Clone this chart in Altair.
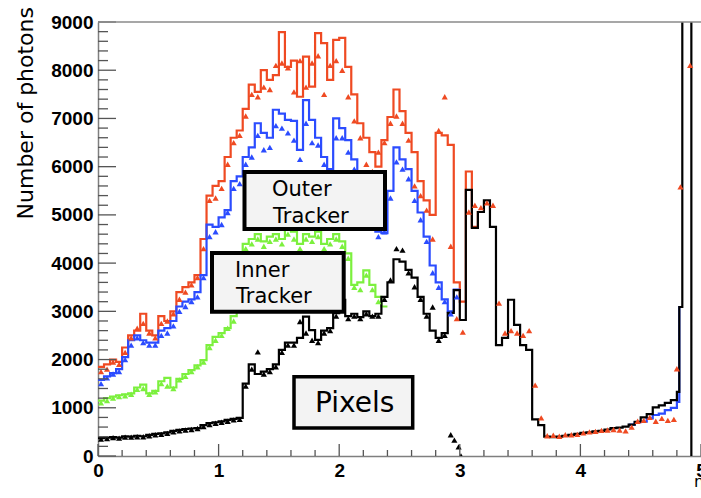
import altair as alt
import pandas as pd

# ---------------- data ----------------
BIN = 0.05  # histogram bin width in eta

# step-histogram contents, bins start at eta = 0
RED = [1850, 1900, 2000, 1950, 2250, 2500, 2600, 2950, 2600, 2500,
       2900, 2800, 3000, 3400, 3500, 3600, 3750, 4500, 5400, 5600,
       5700, 6200, 6600, 6750, 7200, 7700, 7550, 8000, 7800, 7900,
       8790, 8070, 8200, 7450, 8280, 7660, 8770, 8560, 7800, 8630,
       8670, 8070, 7500, 6900, 6600, 6300, 6000, 6550, 7030, 7600,
       7150, 6700, 6300, 5700, 5300, 5000, 6700, 6650, 6450, 3600,
       3200, 5900, 4750, 5060]
BLUE = [1580, 1650, 1720, 1800, 2050, 2400, 2500, 2400, 2350, 2350,
        2600, 2650, 2800, 3100, 3200, 3250, 3400, 3750, 4800, 4750,
        4950, 5100, 5700, 5800, 6200, 6400, 6900, 6700, 6600, 7180,
        7100, 6970, 6950, 6350, 7380, 6970, 6600, 6200, 5950, 7000,
        6800, 6550, 6150, 5900, 5850, 5250, 4650, 4620, 5500, 6400,
        6150, 5950, 5500, 5050, 4550, 3950, 3600, 3250, 3000, 3450]
GREEN = [1150, 1200, 1230, 1260, 1280, 1300, 1420, 1480, 1300, 1350,
         1550, 1620, 1420, 1600, 1700, 1780, 1880, 1990, 2300, 2470,
         2550, 2650, 2900, 3500, 4400, 4500, 4600, 4450, 4550, 4600,
         4500, 4700, 4650, 4400, 4600, 4550, 4650, 4400, 4500, 4600,
         4450, 4200, 3550, 3600, 3850, 3550, 3300, 3100]
BLACK = [370, 380, 390, 380, 410, 400, 420, 410, 440, 460,
         470, 490, 520, 540, 560, 570, 580, 640, 680, 700,
         720, 750, 770, 790, 1500, 1900, 1700, 1750, 1800, 1900,
         2200, 2350, 2350, 2450, 2890, 2610, 2410, 2600, 2650, 2960,
         3240, 2900, 2950, 2880, 3000, 2900, 2950, 3300, 3600, 4080,
         4030, 3860, 3700, 3300, 2950, 2600, 2450, 2550, 2970, 3440,
         2820, 5520, 4730, 5060, 5300, 4750, 2300, 2450, 3240, 2720,
         2300, 2200, 760, 640, 400, 390, 400, 420, 440, 460,
         480, 490, 510, 520, 550, 580, 590, 610, 650, 710,
         800, 870, 1010, 1050, 1100, 1160]
BLACK_TAIL_EDGES = [4.80, 4.82, 4.845, 4.92]
BLACK_TAIL_VALS = [1330, 3090, 12000, 0]
BLUE_TAIL_EDGES = [4.40, 4.45, 4.50, 4.55, 4.60, 4.65, 4.70, 4.75, 4.80, 4.82, 4.845]
BLUE_TAIL_VALS = [650, 700, 710, 780, 850, 880, 950, 1000, 1120, 3090]

# triangle markers, one per bin centre starting at eta = 0.025
RED_MK = [1750, 1800, 1950, 1900, 2150, 2450, 2650, 2750, 2550, 2450,
          2750, 2800, 2950, 3250, 3400, 3550, 3700, 4300, 5300, 5350,
          5550, 6050, 6500, 6650, 7050, 7500, 7450, 7650, 7600, 8100,
          8150, 8050, 7550, 8200, 7650, 8150, 8300, 7500, 8100, 8200,
          8000, 7450, 6950, 6600, 6050, 5900, 6300, 6500, 6900, 7050,
          6900, 6550, 5600, 5400, 5100, 4500, 6750, 7450, 4350, 2850,
          2570, 5060, 5200, 5150, 5250, 5200, 3170, 2550, 2600, 2550,
          2500, 2600, 1470, 790, 420, 430, 410, 440, 440, 450,
          480, 500, 510, 530, 540, 550, 540, 520, 600, 720,
          740, 800, 720, 780, 740, 760]
RED_MK_EXTRA_ETA = [4.80, 4.83, 4.91]
RED_MK_EXTRA = [1810, 5580, 8100]
BLUE_MK = [1500, 1620, 1700, 1750, 2000, 2300, 2450, 2350, 2300, 2300,
           2500, 2550, 2700, 3000, 3100, 3200, 3300, 3700, 4550, 4650,
           4800, 5050, 5550, 5650, 6050, 6200, 6650, 6350, 6400, 6850,
           6800, 6700, 6550, 6150, 6900, 6500, 6450, 6050, 5750, 6600,
           6600, 6300, 5950, 5700, 5600, 5100, 4550, 4650, 5350, 6100,
           5950, 5750, 5300, 4900, 4450, 3800, 3500, 3200, 2950, 3300]
GREEN_MK = [1100, 1150, 1200, 1230, 1250, 1280, 1380, 1400, 1280, 1330,
            1500, 1450, 1400, 1580, 1650, 1750, 1850, 1950, 2250, 2400,
            2500, 2650, 2800, 3400, 4300, 4400, 4500, 4350, 4450, 4500,
            4400, 4600, 4500, 4300, 4500, 4450, 4550, 4300, 4400, 4500,
            4350, 4100, 3500, 3450, 3750, 3450, 3200]
BLACK_MK = [350, 360, 380, 370, 390, 390, 400, 400, 420, 440,
            450, 470, 500, 520, 540, 550, 570, 610, 650, 680,
            700, 720, 750, 760, 1450, 1800, 2160, 1700, 1750, 1850,
            2150, 2300, 2300, 2790, 2550, 2400, 2350, 2550, 2600, 2900,
            3150, 2850, 2900, 2850, 2950, 2900, 2900, 3250, 3650, 4300,
            4270, 3800, 3510, 3250, 2900, 3090, 2400, 2500, 440]
BLACK_MK_EXTRA_ETA = [2.955, 2.99, 3.01]
BLACK_MK_EXTRA = [330, 190, 0]

Y_MAJOR = list(range(0, 9001, 1000))
Y_MINOR = [v for v in range(0, 9001, 200) if v % 1000]
X_MAJOR = [0, 1, 2, 3, 4, 5]
X_MINOR = [round(i * 0.2, 1) for i in range(26) if i % 5]

COL = {"red": "#ef4a22", "blue": "#2b4cff", "green": "#7cf03e", "black": "#000000"}

W, H = 603, 434

# ---------------- helpers ----------------
def step_rows(vals, name, seg=0, start=0.0):
    rows = [{"eta": round(start + i * BIN, 4), "n": v, "s": name, "seg": seg}
            for i, v in enumerate(vals)]
    rows.append({"eta": round(start + len(vals) * BIN, 4), "n": vals[-1], "s": name, "seg": seg})
    return rows

def edge_rows(edges, vals, name, seg):
    rows = [{"eta": e, "n": v, "s": name, "seg": seg} for e, v in zip(edges, vals)]
    if len(edges) > len(vals):
        rows.append({"eta": edges[-1], "n": vals[-1], "s": name, "seg": seg})
    return rows

def mk_rows(vals, name, extra_eta=(), extra_vals=()):
    rows = [{"eta": round(0.025 + i * BIN, 4), "n": v, "s": name} for i, v in enumerate(vals)]
    rows += [{"eta": e, "n": v, "s": name} for e, v in zip(extra_eta, extra_vals)]
    return rows

xs = alt.Scale(domain=[0, 5], nice=False, zero=False)
ys = alt.Scale(domain=[0, 9000], nice=False, zero=False)

lab = dict(labelFont="Liberation Sans", labelFontWeight="bold", labelFontSize=19,
           labelColor="#000000", ticks=False, tickSize=0, grid=False, title=None,
           domainColor="#7f7f7f", domainWidth=1.5, labelFlush=False, labelOverlap=False)

def X():
    return alt.X("eta:Q", scale=xs,
                 axis=alt.Axis(values=X_MAJOR, format="d", labelPadding=5, **lab))

def Y():
    return alt.Y("n:Q", scale=ys,
                 axis=alt.Axis(values=Y_MAJOR, format="d", labelPadding=5, **lab))

layers = []

# histogram step lines
black_rows = step_rows(BLACK, "black")[:-1] + edge_rows(BLACK_TAIL_EDGES, BLACK_TAIL_VALS, "black", 0)
line_sets = [
    ("red", step_rows(RED, "red")),
    ("blue", step_rows(BLUE, "blue") + edge_rows(BLUE_TAIL_EDGES, BLUE_TAIL_VALS, "blue", 1)),
    ("green", step_rows(GREEN, "green")),
    ("black", black_rows),
]
for name, rows in line_sets:
    layers.append(
        alt.Chart(pd.DataFrame(rows))
        .mark_line(interpolate="step-after", color=COL[name], strokeWidth=2.2, clip=True)
        .encode(x=X(), y=Y(), detail="seg:N", order="eta:Q")
    )

# triangle markers
mk_sets = [
    ("black", mk_rows(BLACK_MK, "black", BLACK_MK_EXTRA_ETA, BLACK_MK_EXTRA)),
    ("green", mk_rows(GREEN_MK, "green")),
    ("blue", mk_rows(BLUE_MK, "blue")),
    ("red", mk_rows(RED_MK, "red", RED_MK_EXTRA_ETA, RED_MK_EXTRA)),
]
for name, rows in mk_sets:
    layers.append(
        alt.Chart(pd.DataFrame(rows))
        .mark_point(shape="triangle-up", filled=True, size=38, color=COL[name], opacity=1, clip=True)
        .encode(x=X(), y=Y())
    )

# inward tick marks (ROOT style)
layers.append(alt.Chart(pd.DataFrame({"n": Y_MAJOR})).mark_rule(color="#555555", strokeWidth=1.3)
              .encode(y=Y(), x=alt.value(0), x2=alt.value(18)))
layers.append(alt.Chart(pd.DataFrame({"n": Y_MINOR})).mark_rule(color="#555555", strokeWidth=1.3)
              .encode(y=Y(), x=alt.value(0), x2=alt.value(10)))
layers.append(alt.Chart(pd.DataFrame({"eta": X_MAJOR})).mark_rule(color="#555555", strokeWidth=1.3)
              .encode(x=X(), y=alt.value(H), y2=alt.value(H - 12)))
layers.append(alt.Chart(pd.DataFrame({"eta": X_MINOR})).mark_rule(color="#555555", strokeWidth=1.3)
              .encode(x=X(), y=alt.value(H), y2=alt.value(H - 6)))

# top frame line
layers.append(alt.Chart(pd.DataFrame({"a": [0]})).mark_rule(color="#8a8a8a", strokeWidth=1.5)
              .encode(x=alt.value(0), x2=alt.value(W), y=alt.value(0)))

# label boxes
boxes = [
    (146.5, 287, 150, 207, 4),
    (114, 245.7, 231, 289.7, 4),
    (196, 314.7, 354.7, 406, 3.5),
]
for x1, x2, y1, y2, sw in boxes:
    layers.append(alt.Chart(pd.DataFrame({"a": [0]}))
                  .mark_rect(fill="#f3f3f3", stroke="#000000", strokeWidth=sw)
                  .encode(x=alt.value(x1), x2=alt.value(x2), y=alt.value(y1), y2=alt.value(y2)))

texts = [
    ("Outer", 174, 174, 21),
    ("Tracker", 175, 201, 21),
    ("Inner", 137, 255, 21),
    ("Tracker", 138, 281, 21),
    ("Pixels", 217, 390, 28),
]
for t, tx, ty, fs in texts:
    layers.append(alt.Chart(pd.DataFrame({"t": [t]}))
                  .mark_text(font="DejaVu Sans", fontSize=fs, align="left", baseline="alphabetic", color="#000000")
                  .encode(text="t:N", x=alt.value(tx), y=alt.value(ty)))

# axis titles
layers.append(alt.Chart(pd.DataFrame({"t": ["Number of photons"]}))
              .mark_text(font="DejaVu Sans", fontSize=22, angle=270, align="right", baseline="middle", color="#000000")
              .encode(text="t:N", x=alt.value(-72), y=alt.value(-15)))
layers.append(alt.Chart(pd.DataFrame({"t": ["η"]}))
              .mark_text(font="DejaVu Sans", fontSize=16, align="left", baseline="alphabetic", color="#000000")
              .encode(text="t:N", x=alt.value(596), y=alt.value(465)))

chart = (
    alt.layer(*layers)
    .properties(width=W, height=H,
                autosize=alt.AutoSizeParams(type="none"),
                padding={"left": 98, "top": 22, "right": 0, "bottom": 42},
                background="#ffffff")
    .configure_view(stroke=None)
)

chart.save("out.html", embed_options={"renderer": "svg", "actions": False})
